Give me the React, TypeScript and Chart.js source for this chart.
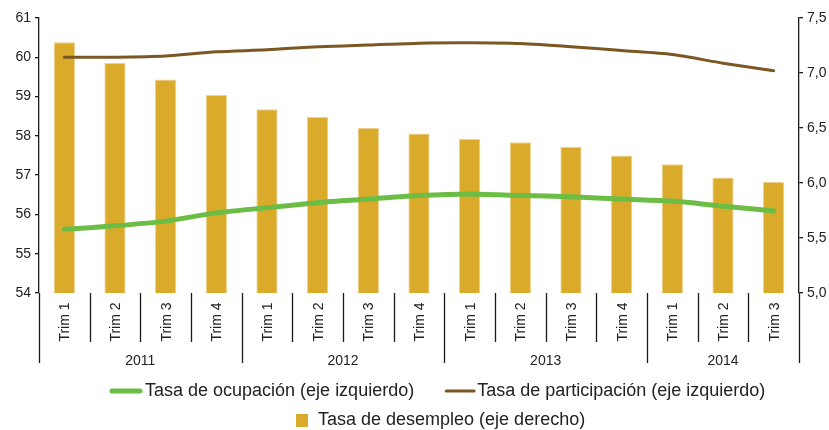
import React, { useEffect, useRef } from "react";
import { Chart, registerables } from "chart.js";

Chart.register(...registerables);

const quarters = ["Trim 1", "Trim 2", "Trim 3", "Trim 4", "Trim 1", "Trim 2", "Trim 3", "Trim 4", "Trim 1", "Trim 2", "Trim 3", "Trim 4", "Trim 1", "Trim 2", "Trim 3"];
const years = ["2011", "2012", "2013", "2014"];
const yearSpans = [4, 4, 4, 3];

const ocupacion = [55.62, 55.71, 55.83, 56.04, 56.17, 56.3, 56.39, 56.48, 56.52, 56.48, 56.45, 56.39, 56.34, 56.21, 56.09];
const participacion = [60.0, 60.0, 60.03, 60.14, 60.19, 60.27, 60.31, 60.36, 60.37, 60.35, 60.27, 60.17, 60.07, 59.85, 59.66];
const desempleo = [7.28, 7.09, 6.94, 6.8, 6.67, 6.6, 6.5, 6.45, 6.4, 6.37, 6.33, 6.25, 6.17, 6.05, 6.01];

const leftTicks = { min: 54, max: 61, step: 1 };
const rightTicks = { min: 5, max: 7.5, step: 0.5 };

const FONT = "'Liberation Sans', Arial, sans-serif";
const GREEN = "#6cbd45";
const BROWN = "#7a5723";
const GOLD = "#daaa2a";
const TEXT = "#222222";

const axisPlugin = {
  id: "customAxisLegend",
  afterDraw(chart: any) {
    const ctx = chart.ctx;
    const xs = chart.scales.x;
    const area = chart.chartArea;
    const n = quarters.length;
    const bottom = area.bottom;
    const bounds: number[] = [];
    for (let i = 0; i <= n; i++) {
      if (i === 0) bounds.push(area.left);
      else if (i === n) bounds.push(area.right);
      else bounds.push((xs.getPixelForValue(i - 1) + xs.getPixelForValue(i)) / 2);
    }
    const yearBounds = new Set<number>();
    let acc = 0;
    yearBounds.add(0);
    yearSpans.forEach((s) => { acc += s; yearBounds.add(acc); });

    ctx.save();
    ctx.strokeStyle = "#1a1a1a";
    ctx.lineWidth = 1.3;
    for (let i = 0; i <= n; i++) {
      const x = Math.round(bounds[i]) + 0.5;
      const len = yearBounds.has(i) ? 70 : 49;
      ctx.beginPath();
      ctx.moveTo(x, bottom);
      ctx.lineTo(x, bottom + len);
      ctx.stroke();
    }
    // quarter labels
    ctx.fillStyle = TEXT;
    ctx.font = `14px ${FONT}`;
    ctx.textAlign = "center";
    ctx.textBaseline = "middle";
    for (let i = 0; i < n; i++) {
      const x = xs.getPixelForValue(i) + 1;
      ctx.save();
      ctx.translate(x, bottom + 29);
      ctx.rotate(-Math.PI / 2);
      ctx.fillText(quarters[i], 0, 0);
      ctx.restore();
    }
    // year labels
    let start = 0;
    years.forEach((y, k) => {
      const end = start + yearSpans[k];
      const cx = (bounds[start] + bounds[end]) / 2;
      ctx.fillText(y, cx, bottom + 68);
      start = end;
    });

    // legend
    const ds = chart.data.datasets;
    ctx.font = `18px ${FONT}`;
    ctx.textAlign = "left";
    ctx.textBaseline = "middle";
    const row1 = bottom + 98;
    let x = 110;
    ctx.lineCap = "round";
    ctx.strokeStyle = GREEN;
    ctx.lineWidth = 5;
    ctx.beginPath();
    ctx.moveTo(x + 2, row1);
    ctx.lineTo(x + 30, row1);
    ctx.stroke();
    ctx.fillText(ds[0].label, x + 35, row1);
    x = x + 35 + ctx.measureText(ds[0].label).width + 32;
    ctx.strokeStyle = BROWN;
    ctx.lineWidth = 3;
    ctx.beginPath();
    ctx.moveTo(x, row1);
    ctx.lineTo(x + 28, row1);
    ctx.stroke();
    ctx.fillText(ds[1].label, x + 31, row1);

    const row2 = bottom + 127;
    ctx.fillStyle = GOLD;
    ctx.fillRect(296, row2 - 6, 12, 13);
    ctx.fillStyle = TEXT;
    ctx.fillText(ds[2].label, 318, row2);
    ctx.restore();
  },
};

export default function App() {
  const ref = useRef<HTMLCanvasElement | null>(null);
  useEffect(() => {
    if (!ref.current) return;
    const chart = new Chart(ref.current, {
      type: "bar",
      data: {
        labels: quarters.map((q, i) => `${q}-${i}`),
        datasets: [
          {
            type: "line",
            label: "Tasa de ocupación (eje izquierdo)",
            data: ocupacion,
            borderColor: GREEN,
            backgroundColor: GREEN,
            borderWidth: 5,
            pointRadius: 0,
            tension: 0.25,
            borderCapStyle: "round",
            yAxisID: "y",
            order: 0,
          },
          {
            type: "line",
            label: "Tasa de participación (eje izquierdo)",
            data: participacion,
            borderColor: BROWN,
            backgroundColor: BROWN,
            borderWidth: 3,
            pointRadius: 0,
            tension: 0.25,
            borderCapStyle: "round",
            yAxisID: "y",
            order: 0,
          },
          {
            type: "bar",
            label: "Tasa de desempleo (eje derecho)",
            data: desempleo,
            backgroundColor: GOLD,
            borderColor: "#ecd28e",
            borderWidth: 1,
            barPercentage: 0.42,
            categoryPercentage: 1,
            yAxisID: "y1",
            order: 1,
          },
        ],
      } as any,
      options: {
        animation: false,
        responsive: false,
        maintainAspectRatio: false,
        layout: { padding: { top: 18, bottom: 137, left: 0, right: 0 } },
        plugins: { legend: { display: false }, tooltip: { enabled: false } },
        scales: {
          x: { display: false, offset: true, grid: { display: false } },
          y: {
            position: "left",
            min: leftTicks.min,
            max: leftTicks.max,
            afterFit: (s: any) => { s.width = 39; },
            border: { display: true, color: "#1a1a1a", width: 1.3 },
            grid: { drawOnChartArea: false, tickLength: 4, color: "#1a1a1a", lineWidth: 1.3 },
            ticks: {
              stepSize: leftTicks.step,
              padding: 4,
              color: TEXT,
              font: { family: FONT, size: 14 },
            },
          },
          y1: {
            position: "right",
            min: rightTicks.min,
            max: rightTicks.max,
            afterFit: (s: any) => { s.width = 30; },
            border: { display: true, color: "#1a1a1a", width: 1.3 },
            grid: { drawOnChartArea: false, tickLength: 4, color: "#1a1a1a", lineWidth: 1.3 },
            ticks: {
              stepSize: rightTicks.step,
              padding: 4,
              color: TEXT,
              font: { family: FONT, size: 14 },
              callback: (v: any) => Number(v).toFixed(1).replace(".", ","),
            },
          },
        },
      } as any,
      plugins: [axisPlugin],
    });
    return () => chart.destroy();
  }, []);
  return (
    <div style={{ position: "fixed", left: 0, top: 0, width: 829, height: 430, background: "#fff" }}>
      <canvas ref={ref} width={829} height={430} style={{ width: 829, height: 430, display: "block" }} />
    </div>
  );
}
